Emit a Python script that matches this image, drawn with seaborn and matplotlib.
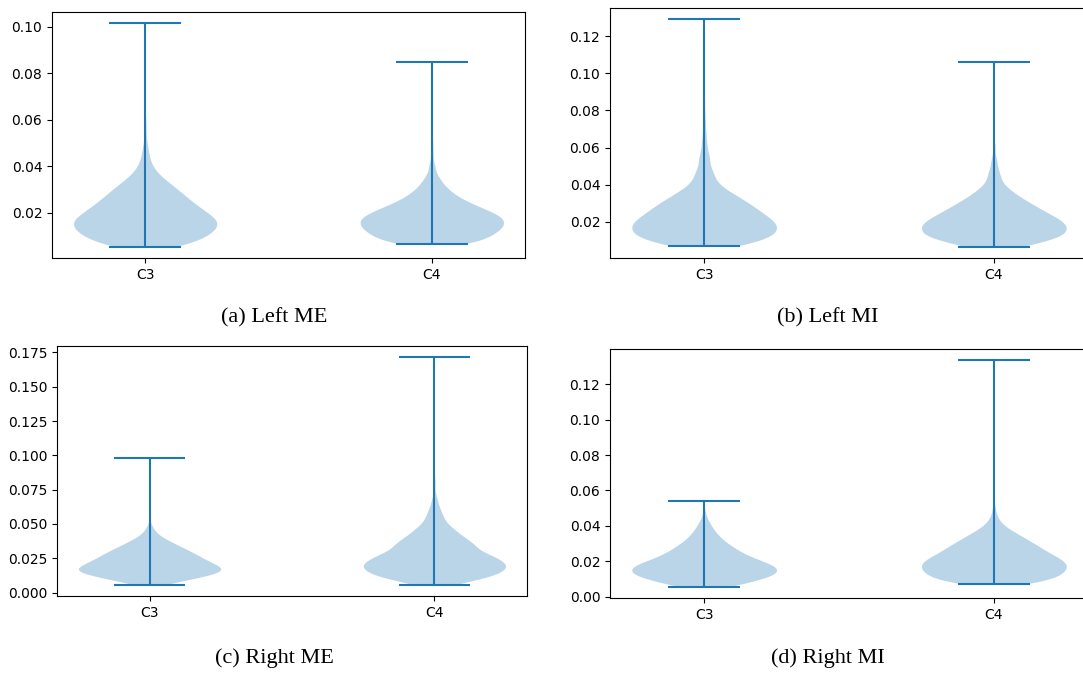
import numpy as np
import pandas as pd
import matplotlib
matplotlib.use("Agg")
import matplotlib.pyplot as plt
import seaborn as sns

# Channels shown in every panel
channels = ["C3", "C4"]

# Each distribution is stored as value levels with how many trials fall at each level.
# (a) Left ME
left_me_c3_levels = [0.0054, 0.008, 0.011, 0.014, 0.017, 0.020, 0.023, 0.026, 0.029, 0.032,
                     0.035, 0.038, 0.041, 0.044, 0.047, 0.050, 0.055, 0.060, 0.1015]
left_me_c3_counts = [50, 100, 126, 140, 140, 120, 100, 84, 68, 52,
                     34, 20, 12, 8, 6, 4, 3, 2, 1]
left_me_c4_levels = [0.0067, 0.009, 0.012, 0.015, 0.018, 0.021, 0.024, 0.027, 0.030, 0.033,
                     0.036, 0.040, 0.045, 0.050, 0.055, 0.085]
left_me_c4_counts = [50, 100, 128, 140, 138, 110, 76, 50, 32, 20,
                     12, 8, 4, 3, 1, 1]

# (b) Left MI
left_mi_c3_levels = [0.0071, 0.010, 0.013, 0.016, 0.019, 0.022, 0.025, 0.028, 0.031, 0.034,
                     0.037, 0.040, 0.044, 0.048, 0.053, 0.056, 0.060, 0.064, 0.068, 0.073,
                     0.078, 0.085, 0.1291]
left_mi_c3_counts = [70, 118, 138, 144, 144, 128, 112, 98, 82, 64,
                     44, 32, 28, 22, 15, 10, 8, 6, 5, 4,
                     3, 2, 1]
left_mi_c4_levels = [0.0066, 0.010, 0.013, 0.016, 0.019, 0.022, 0.025, 0.028, 0.031, 0.034,
                     0.037, 0.040, 0.044, 0.048, 0.053, 0.060, 0.075, 0.106]
left_mi_c4_counts = [65, 115, 138, 144, 142, 124, 104, 84, 66, 48,
                     32, 22, 18, 13, 10, 5, 2, 1]

# (c) Right ME
right_me_c3_levels = [0.0058, 0.008, 0.011, 0.014, 0.017, 0.020, 0.023, 0.026, 0.029, 0.032,
                      0.035, 0.038, 0.041, 0.044, 0.047, 0.050, 0.060, 0.098]
right_me_c3_counts = [20, 50, 96, 128, 144, 130, 112, 98, 84, 68,
                      52, 36, 22, 12, 7, 3, 2, 1]
right_me_c4_levels = [0.0058, 0.009, 0.012, 0.015, 0.018, 0.021, 0.024, 0.027, 0.030, 0.034,
                      0.038, 0.042, 0.046, 0.050, 0.055, 0.060, 0.065, 0.070, 0.080, 0.1714]
right_me_c4_counts = [40, 80, 116, 132, 142, 144, 128, 112, 100, 112,
                      90, 69, 51, 37, 30, 20, 12, 7, 3, 1]

# (d) Right MI
right_mi_c3_levels = [0.0056, 0.008, 0.011, 0.014, 0.017, 0.020, 0.023, 0.026, 0.029, 0.032,
                      0.035, 0.038, 0.041, 0.044, 0.047, 0.054]
right_mi_c3_counts = [35, 80, 124, 142, 138, 112, 84, 66, 50, 36,
                      26, 18, 12, 6, 3, 1]
right_mi_c4_levels = [0.0073, 0.010, 0.013, 0.016, 0.019, 0.022, 0.025, 0.028, 0.031, 0.034,
                      0.037, 0.040, 0.043, 0.046, 0.050, 0.060, 0.1335]
right_mi_c4_counts = [60, 112, 132, 140, 140, 124, 104, 88, 72, 54,
                      36, 20, 10, 6, 4, 1, 1]

captions = ["(a) Left ME", "(b) Left MI", "(c) Right ME", "(d) Right MI"]

panel_data = [
    (left_me_c3_levels, left_me_c3_counts, left_me_c4_levels, left_me_c4_counts),
    (left_mi_c3_levels, left_mi_c3_counts, left_mi_c4_levels, left_mi_c4_counts),
    (right_me_c3_levels, right_me_c3_counts, right_me_c4_levels, right_me_c4_counts),
    (right_mi_c3_levels, right_mi_c3_counts, right_mi_c4_levels, right_mi_c4_counts),
]

W, H = 1083, 673
fig = plt.figure(figsize=(W / 100, H / 100), dpi=100)

# Axes boxes in pixels: left, top, right, bottom
boxes = [(52, 12, 525, 258), (610, 8, 1088, 258),
         (57, 346, 527, 596), (610, 349, 1088, 598)]
caption_pos = [(274, 318), (828, 318), (274, 658), (828, 658)]

blue = "#1f77b4"


def px_axes(left, top, right, bottom):
    return fig.add_axes([left / W, 1 - bottom / H, (right - left) / W, (bottom - top) / H])


for (c3_lv, c3_ct, c4_lv, c4_ct), box, cap, cpos in zip(panel_data, boxes, captions, caption_pos):
    ax = px_axes(*box)
    c3 = np.repeat(c3_lv, c3_ct)
    c4 = np.repeat(c4_lv, c4_ct)
    df = pd.DataFrame({
        "channel": np.repeat(channels, [len(c3), len(c4)]),
        "value": np.concatenate([c3, c4]),
    })
    sns.violinplot(data=df, x="channel", y="value", order=channels, ax=ax,
                   cut=0, inner=None, width=0.5, density_norm="width",
                   color=blue, saturation=1, linewidth=0, alpha=0.3)

    # Extrema bars and the connecting line for each violin
    pos = np.arange(len(channels))
    mins = np.array([c3.min(), c4.min()])
    maxs = np.array([c3.max(), c4.max()])
    ax.vlines(pos, mins, maxs, color=blue, lw=1.5)
    ax.hlines(mins, pos - 0.125, pos + 0.125, color=blue, lw=1.5)
    ax.hlines(maxs, pos - 0.125, pos + 0.125, color=blue, lw=1.5)

    ax.set_xlim(-0.325, 1.325)
    ax.set_xlabel("")
    ax.set_ylabel("")
    ax.tick_params(labelsize=10)

    fig.text(cpos[0] / W, 1 - cpos[1] / H, cap, ha="center", va="center",
             family="Liberation Serif", fontsize=16)

fig.savefig("out.png", dpi=100)
